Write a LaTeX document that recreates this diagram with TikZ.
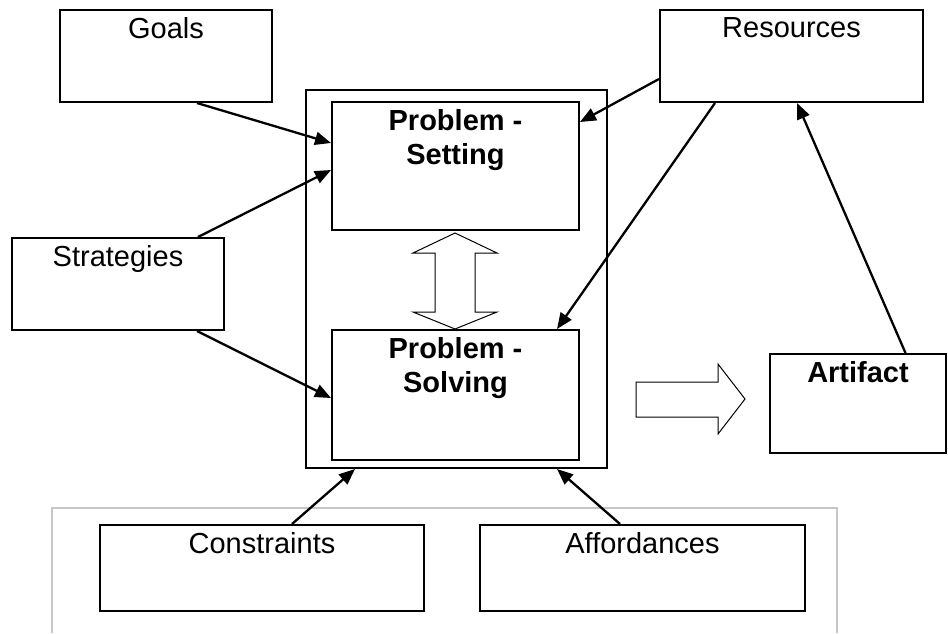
\documentclass[tikz,border=0pt]{standalone}
\usepackage{fontspec}
\setmainfont{Liberation Sans}
\usetikzlibrary{arrows.meta}

\begin{document}
\begin{tikzpicture}[x=1pt,y=-1pt,
		box/.style={draw,line width=2pt,inner sep=0pt},
		lbl/.style={anchor=north,yshift=-8pt,inner sep=0pt,align=center,font=\fontsize{29}{34}\selectfont},
		blbl/.style={lbl,font=\fontsize{29}{34}\selectfont\bfseries},
		link/.style={line width=2.3pt,-{Triangle[length=16pt,width=13pt]}},
		hollow/.style={draw,line width=1pt}]
			\useasboundingbox (0,0) rectangle (948,633);
			
			% middle frame with the two stages
			\node[box,minimum width=301pt,minimum height=378pt] (frame) at (456.5,279) {};
			\node[box,minimum width=247pt,minimum height=128pt,label={[blbl]north:Problem -\\Setting}] (setting) at (455.5,166) {};
			\node[box,minimum width=247pt,minimum height=130pt,label={[blbl]north:Problem -\\Solving}] (solving) at (455.5,395) {};
			
			% outer boxes
			\node[box,minimum width=212pt,minimum height=92pt,label={[lbl]north:Goals}] (goals) at (166,56) {};
			\node[box,minimum width=263pt,minimum height=92pt,label={[lbl]north:Resources}] (resources) at (791.5,56) {};
			\node[box,minimum width=212pt,minimum height=92pt,label={[lbl]north:Strategies}] (strategies) at (118,284) {};
			\node[box,minimum width=176pt,minimum height=99pt,label={[blbl]north:Artifact}] (artifact) at (858,403.5) {};
			
			\draw[gray!45,line width=1.7pt] (52,633) -- (52,508) -- (837,508) -- (837,633);
			\node[box,minimum width=324pt,minimum height=86pt,label={[lbl]north:Constraints}] (constraints) at (262,568) {};
			\node[box,minimum width=325pt,minimum height=86pt,label={[lbl]north:Affordances}] (affordances) at (642.5,568) {};
			
			% arrows
			\draw[link] ([xshift=31pt]goals.south) -- ([yshift=23pt]setting.west);
			\draw[link] ([xshift=80pt]strategies.north) -- ([yshift=-4pt]setting.west);
			\draw[link] ([xshift=79pt]strategies.south) -- ([yshift=-3pt]solving.west);
			\draw[link] ([yshift=-23pt]resources.west) -- ([yshift=44pt]setting.east);
			\draw[link] ([xshift=-76.5pt]resources.south) -- ([xshift=101.5pt]solving.north);
			\draw[link] ([xshift=47.5pt]artifact.north) -- ([xshift=5.5pt]resources.south);
			\draw[link] ([xshift=30pt]constraints.north) -- ([xshift=-101.5pt]frame.south);
			\draw[link] ([xshift=-22.5pt]affordances.north) -- ([xshift=100.5pt]frame.south);
			
			% hollow block arrows
			\draw[hollow] (455,233) -- (497,253) -- (475,253) -- (475,312) -- (497,312) -- (455,329)
				-- (413,312) -- (435,312) -- (435,253) -- (413,253) -- cycle;
			\draw[hollow] (636,382) -- (718,382) -- (718,364) -- (745,399) -- (718,434) -- (718,417) -- (636,417) -- cycle;
\end{tikzpicture}
\end{document}
